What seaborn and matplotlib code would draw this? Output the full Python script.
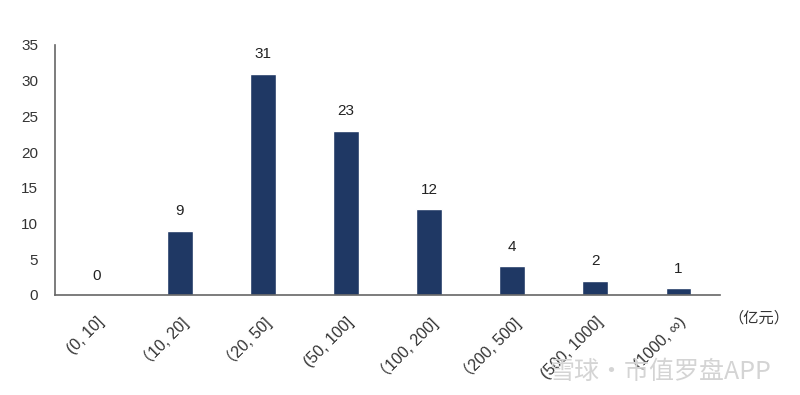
import matplotlib
matplotlib.use("Agg")
import matplotlib.pyplot as plt
import seaborn as sns
import pandas as pd

categories = ["(0, 10]", "（10, 20]", "（20, 50]", "(50, 100]", "（100, 200]", "（200, 500]", "(500, 1000]", "(1000, ∞)"]
counts = [0, 9, 31, 23, 12, 4, 2, 1]
yticks = [0, 5, 10, 15, 20, 25, 30, 35]

sns.set_style("white")
plt.rcParams['font.family'] = ['Liberation Sans', 'Noto Sans CJK SC', 'DejaVu Sans']

df = pd.DataFrame({"range": categories, "count": counts})

fig = plt.figure(figsize=(8, 3.95), dpi=100)
fig.text(0.825, 1-372/395, "雪球·市值罗盘APP", ha="center", va="center", fontsize=18, color="#d4d4d4",
         family=['Noto Sans CJK SC', 'DejaVu Sans'], zorder=0)
ax = fig.add_axes([55/800, 1-295/395, 665/800, 250/395])
ax.patch.set_alpha(0)
sns.barplot(data=df, x="range", y="count", color="#1F3864", width=0.31, ax=ax, saturation=1)
ax.set_ylim(0, 35)
ax.set_xlim(-0.5, len(categories) - 0.5)
ax.set_yticks(yticks)
ax.set_yticklabels([str(t) for t in yticks], fontsize=11, color="#333333")
ax.set_xlabel("")
ax.set_ylabel("")
for s in ["top", "right"]:
    ax.spines[s].set_visible(False)
for s in ["left", "bottom"]:
    ax.spines[s].set_color("#666666")
    ax.spines[s].set_linewidth(1.2)
ax.tick_params(axis="y", length=0, pad=12)
ax.tick_params(axis="x", length=0, pad=14)
ax.set_xticks(range(len(categories)))
ax.set_xticklabels(categories, rotation=45, ha="right", rotation_mode="anchor", fontsize=11.5, color="#333333")
for i, v in enumerate(counts):
    ax.text(i, v + 2.7, str(v), ha="center", va="center", fontsize=11, color="#222222")
fig.text(728/800, 1-318/395, "（亿元）", ha="left", va="center", fontsize=11, color="#333333",
         family=['Noto Sans CJK SC', 'DejaVu Sans'])
fig.savefig("out.png", dpi=100)
